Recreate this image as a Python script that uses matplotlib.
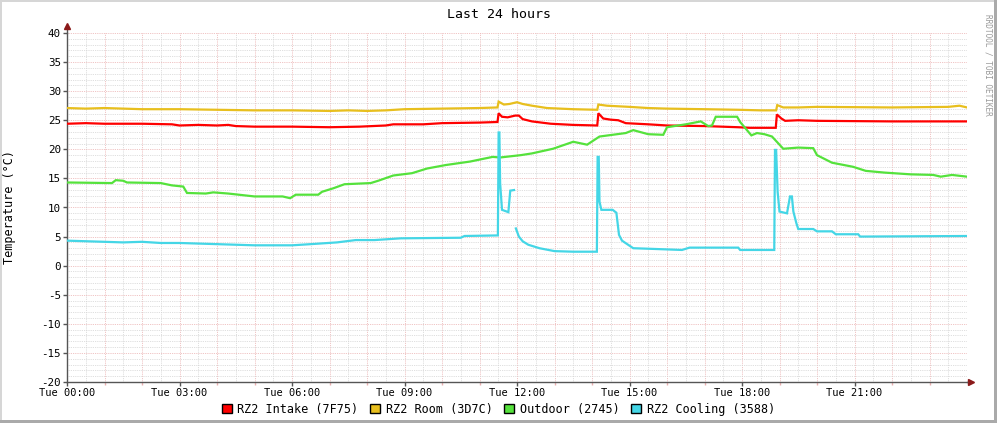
"""
rrdtool style temperature graph, last 24 hours
"""

import numpy as np
from matplotlib import pyplot as plt
from matplotlib.patches import Patch, Rectangle

nan = np.nan

# hours since 00:00 / degrees C
intake_t = [0, 0.5, 1, 2, 2.8, 3, 3.5, 4, 4.3, 4.5, 5, 6, 7, 7.8, 8.5, 8.7, 9.5, 10, 11, 11.48,
            11.51, 11.6, 11.75, 11.95, 12.05, 12.15, 12.4, 12.9, 13.5, 14.14, 14.17, 14.3, 14.5,
            14.7, 14.9, 15.5, 16, 17, 17.9, 18.2, 18.9, 18.93, 19.05, 19.15, 19.5, 20, 22, 24]
intake_v = [24.4, 24.5, 24.4, 24.4, 24.3, 24.1, 24.2, 24.1, 24.2, 24.0, 23.9, 23.9, 23.8, 23.9,
            24.1, 24.3, 24.3, 24.5, 24.6, 24.7, 26.2, 25.6, 25.5, 25.8, 25.8, 25.2, 24.8, 24.4,
            24.2, 24.1, 26.2, 25.3, 25.1, 25.0, 24.5, 24.3, 24.1, 24.0, 23.8, 23.7, 23.7, 26.0,
            25.3, 24.9, 25.0, 24.9, 24.8, 24.8]

room_t = [0, 0.5, 1, 2, 3, 4, 5, 6, 7, 7.5, 8, 8.5, 9, 10, 11, 11.48, 11.51, 11.65, 11.8, 12.0,
          12.15, 12.4, 12.8, 13.5, 14.14, 14.17, 14.4, 15, 15.5, 16, 17, 17.9, 18.5, 18.91,
          18.94, 19.1, 19.5, 20, 22, 23.5, 23.8, 24]
room_v = [27.1, 27.0, 27.1, 26.9, 26.9, 26.8, 26.7, 26.7, 26.6, 26.7, 26.6, 26.7, 26.9, 27.0,
          27.1, 27.2, 28.2, 27.7, 27.8, 28.1, 27.8, 27.5, 27.1, 26.9, 26.8, 27.7, 27.5, 27.3,
          27.1, 27.0, 26.9, 26.8, 26.7, 26.7, 27.6, 27.2, 27.2, 27.3, 27.2, 27.3, 27.5, 27.2]

outdoor_t = [0, 1.2, 1.3, 1.5, 1.6, 2.5, 2.8, 3.1, 3.2, 3.7, 3.9, 4.3, 5, 5.75, 5.95, 6.1, 6.7,
             6.8, 7.1, 7.4, 8.1, 8.3, 8.7, 9.2, 9.6, 10.1, 10.75, 11.35, 11.55, 12.1, 12.4, 12.96,
             13.5, 13.87, 14.2, 14.9, 15.1, 15.5, 15.9, 16.0, 16.5, 16.9, 17.1, 17.2, 17.3,
             17.87, 17.95, 18.25, 18.4, 18.6, 18.8, 19.1, 19.5, 19.9, 20.0, 20.4, 20.96, 21.3,
             21.8, 22.5, 23.1, 23.3, 23.6, 24]
outdoor_v = [14.3, 14.2, 14.7, 14.6, 14.3, 14.2, 13.8, 13.6, 12.5, 12.4, 12.6, 12.4, 11.9, 11.9,
             11.6, 12.2, 12.2, 12.7, 13.3, 14.0, 14.2, 14.6, 15.5, 15.9, 16.7, 17.3, 17.9, 18.7,
             18.6, 19.0, 19.3, 20.1, 21.3, 20.8, 22.2, 22.8, 23.3, 22.6, 22.5, 23.8, 24.3, 24.8,
             24.0, 24.1, 25.6, 25.6, 24.7, 22.4, 22.8, 22.6, 22.2, 20.1, 20.3, 20.2, 19.0, 17.7,
             17.0, 16.3, 16.0, 15.7, 15.6, 15.3, 15.6, 15.3]

cooling_t = [0, 0.5, 1, 1.5, 2, 2.5, 3, 3.5, 4, 5, 6, 6.5, 7.2, 7.7, 8.2, 8.9, 10.5, 10.6, 11.49,
             11.51, 11.53, 11.55, 11.6, 11.77, 11.82, 11.92, 11.95, 11.97, 12.05, 12.15, 12.3,
             12.6, 13.0, 13.5, 14.13, 14.15, 14.18, 14.2, 14.25, 14.55, 14.65, 14.72, 14.8, 15.1,
             15.55, 16.4, 16.6, 17.9, 17.95, 18.86, 18.88, 18.91, 18.95, 19.0, 19.2, 19.28,
             19.33, 19.37, 19.45, 19.5, 19.9, 20.0, 20.4, 20.5, 21.1, 21.15, 24]
cooling_v = [4.3, 4.2, 4.1, 4.0, 4.1, 3.9, 3.9, 3.8, 3.7, 3.5, 3.5, 3.7, 4.0, 4.4, 4.4, 4.7, 4.8,
             5.1, 5.2, 22.9, 22.9, 14.2, 9.6, 9.2, 12.9, 13.0, nan, 6.4, 5.0, 4.2, 3.6, 3.0, 2.5,
             2.4, 2.4, 18.7, 18.7, 11.0, 9.6, 9.6, 9.1, 5.3, 4.3, 3.0, 2.9, 2.7, 3.1, 3.1, 2.7,
             2.7, 19.9, 19.9, 12.7, 9.3, 9.0, 11.9, 11.9, 9.3, 7.3, 6.3, 6.3, 5.9, 5.9, 5.4, 5.4,
             5.0, 5.1]

labels = ['RZ2 Intake (7F75)', 'RZ2 Room (3D7C)', 'Outdoor (2745)', 'RZ2 Cooling (3588)']
colors = ['#ff0000', '#e8bf1e', '#55e23c', '#44d6e6']
xtick_labels = ['Tue 00:00', 'Tue 03:00', 'Tue 06:00', 'Tue 09:00',
                'Tue 12:00', 'Tue 15:00', 'Tue 18:00', 'Tue 21:00']

MONO = 'DejaVu Sans Mono'


def draw_frame(fig):
	# rrdtool style 3d border
	W, H = 997.0, 423.0
	light, dark = '#d6d6d6', '#aaaaaa'
	fig.patches.append(Rectangle((0, 1 - 2 / H), 1, 2 / H, transform=fig.transFigure, fc=light, ec='none'))
	fig.patches.append(Rectangle((0, 0), 2 / W, 1, transform=fig.transFigure, fc=light, ec='none'))
	fig.patches.append(Rectangle((1 - 3 / W, 0), 3 / W, 1, transform=fig.transFigure, fc=dark, ec='none'))
	fig.patches.append(Rectangle((0, 0), 1, 3 / H, transform=fig.transFigure, fc=dark, ec='none'))


def create_chart():
	fig = plt.figure(figsize=(9.97, 4.23), dpi=100, facecolor='white')
	ax = fig.add_axes([67 / 997, 41 / 423, 900 / 997, 349 / 423])
	ax.set_xlim(0, 24)
	ax.set_ylim(-20, 40)

	# grid
	minor_c, major_c = '#d4d4d4', '#eab0b0'
	for h in np.arange(0.5, 24, 1.0):
		ax.axvline(h, color=minor_c, lw=0.6, ls=(0, (1, 1.2)), zorder=0)
	for h in np.arange(1, 24.01, 1.0):
		ax.axvline(h, color=major_c, lw=0.6, ls=(0, (1, 1.2)), zorder=0)
	for v in range(-19, 41):
		if v % 5:
			ax.axhline(v, color=minor_c, lw=0.6, ls=(0, (1, 1.2)), zorder=0)
	for v in range(-15, 41, 5):
		ax.axhline(v, color=major_c, lw=0.6, ls=(0, (1, 1.2)), zorder=0)

	series = [(intake_t, intake_v), (room_t, room_v), (outdoor_t, outdoor_v), (cooling_t, cooling_v)]
	for (t, v), c in zip(series, colors):
		ax.plot(t, v, color=c, lw=1.6, solid_joinstyle='miter', zorder=3)

	# axes
	for s in ('top', 'right'):
		ax.spines[s].set_visible(False)
	for s in ('left', 'bottom'):
		ax.spines[s].set_color('#555555')
		ax.spines[s].set_linewidth(1.0)
	ax.plot([0, 0], [1, 1.018], color='#555555', lw=1.0, transform=ax.transAxes, clip_on=False)
	ax.plot([1, 1.004], [0, 0], color='#555555', lw=1.0, transform=ax.transAxes, clip_on=False)
	ax.plot([0], [1.02], marker='^', ms=5, color='#8b1a1a', transform=ax.transAxes, clip_on=False)
	ax.plot([1.004], [0], marker='>', ms=5, color='#8b1a1a', transform=ax.transAxes, clip_on=False)

	ax.set_xticks(np.arange(0, 24, 3))
	ax.set_xticklabels(xtick_labels, family=MONO, fontsize=7.5)
	ax.set_xticks(np.arange(1, 24, 1), minor=True)
	ax.set_yticks(range(-20, 41, 5))
	ax.set_yticklabels([str(v) for v in range(-20, 41, 5)], family=MONO, fontsize=7.8)
	ax.tick_params(axis='both', which='major', length=3, width=1, color='#555555', pad=1.5)
	ax.tick_params(axis='x', which='minor', length=2, width=1, color=major_c)

	fig.text(0.5, 1 - 14 / 423, 'Last 24 hours', ha='center', va='center', family=MONO, fontsize=9.5)
	fig.text(10 / 997, (423 - 207) / 423, 'Temperature (°C)', rotation=90, ha='center', va='center',
	         family=MONO, fontsize=8.5)
	fig.text(988 / 997, 1 - 14 / 423, 'RRDTOOL / TOBI OETIKER', rotation=270, ha='center', va='top',
	         family=MONO, fontsize=5.6, color='#999999')

	handles = [Patch(fc=c, ec='black', lw=1.0) for c in colors]
	fig.legend(handles, labels, loc='center', bbox_to_anchor=(0.5, 14 / 423), ncol=4, frameon=False,
	           prop={'family': MONO, 'size': 8.5}, handlelength=0.8, handleheight=0.8,
	           handletextpad=0.5, columnspacing=1.0, borderpad=0)

	draw_frame(fig)
	fig.savefig('out.png', dpi=100, facecolor='white')


if __name__ == '__main__':
	create_chart()
